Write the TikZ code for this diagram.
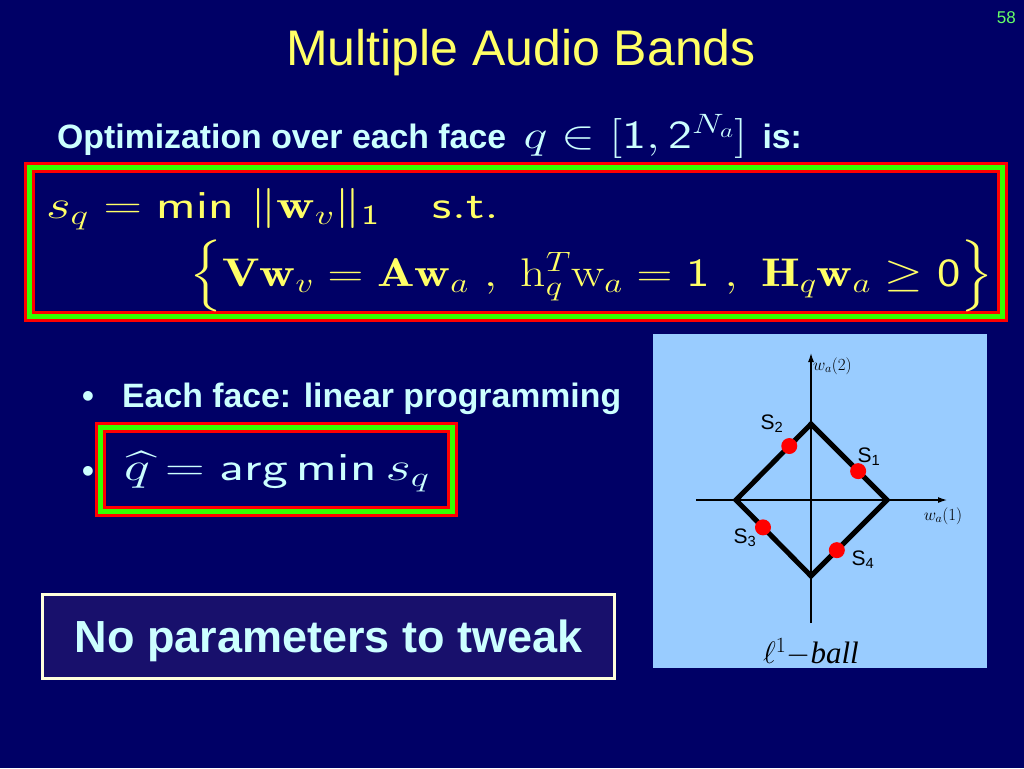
\RequirePackage{fix-cm}
\documentclass[tikz,border=0pt]{standalone}
\usepackage{amsmath,amssymb}
\usepackage{graphicx}
\usepackage{fontspec}
\newfontfamily\arialfont{Liberation Sans}
\newfontfamily\timesfont{Liberation Serif}
\usetikzlibrary{positioning,arrows.meta}

\definecolor{slidebg}{RGB}{0,0,102}
\definecolor{titleyellow}{RGB}{255,255,102}
\definecolor{textcyan}{RGB}{204,255,255}
\definecolor{pagegreen}{RGB}{102,255,102}
\definecolor{boxred}{RGB}{255,0,0}
\definecolor{boxgreen}{RGB}{51,255,0}
\definecolor{notefill}{RGB}{24,16,108}
\definecolor{notedraw}{RGB}{255,255,220}
\definecolor{panelblue}{RGB}{153,204,255}

% the formulas are drawn a little wider than they are tall
\newcommand{\widemath}[2]{\scalebox{#1}[1]{$#2$}}

\begin{document}
\begin{tikzpicture}[x=1pt,y=-1pt,
  titletext/.style={text=titleyellow,font=\arialfont\fontsize{50}{50}\selectfont,inner sep=0pt},
  bodytext/.style={text=textcyan,font=\arialfont\bfseries\fontsize{33.8}{34}\selectfont,inner sep=0pt},
  mathtext/.style={text=titleyellow,font=\fontsize{40}{40}\selectfont,inner sep=0pt},
  framered/.style={draw=boxred,line width=11pt},
  framegreen/.style={draw=boxgreen,line width=4.5pt},
  axis/.style={line width=1.2pt,-{Latex[length=9pt,width=6pt]}},
  ballline/.style={line width=5pt,line join=miter},
  facedot/.style={circle,fill=boxred,minimum size=16pt,inner sep=0pt},
  facelabel/.style={font=\arialfont\fontsize{21}{21}\selectfont,inner sep=0pt},
  axislabel/.style={font=\fontsize{17}{17}\selectfont,inner sep=0pt}]
  % slide background
  \fill[slidebg] (0,0) rectangle (1024,768);
  \useasboundingbox (0,0) rectangle (1024,768);

  % title and page number
  \node[titletext,anchor=base] (title) at (521,66) {Multiple Audio Bands};
  \node[anchor=base east,text=pagegreen,font=\arialfont\fontsize{17}{17}\selectfont,inner sep=0pt] (page) at (1016,24) {58};

  % heading line
  \node[bodytext,anchor=base west] (facehead) at (57,148) {Optimization over each face};
  \node[mathtext,text=textcyan,right=17pt of facehead.base east,anchor=base west] (facerange) {\widemath{1.27}{q \in [\mathsf{1}, \mathsf{2}^{N_a}]}};
  \node[bodytext,right=15pt of facerange.base east,anchor=base west] (facetail) {is:};

  % optimization problem
  \draw[framered] (29.5,167.5) rectangle (1002.5,316.5);
  \draw[framegreen] (29.5,167.5) rectangle (1002.5,316.5);
  \node[mathtext,anchor=base west] (costline) at (46,218) {\widemath{1.33}{s_q = \mathsf{min}\ \|\mathbf{w}_v\|_{\mathsf{1}} \quad \mathsf{s.t.}}};
  \node[mathtext,anchor=base west] (constline) at (189,286) {\widemath{1.24}{\Big\{\mathbf{Vw}_v = \mathbf{Aw}_a\ ,\ \mathrm{h}_q^T\mathrm{w}_a = \mathsf{1}\ ,\ \mathbf{H}_q\mathbf{w}_a \geq \mathsf{0}\Big\}}};

  % bullets
  \node[bodytext,anchor=base] (lpbullet) at (88,407) {\textbullet};
  \node[bodytext,anchor=base west] (lpitem) at (122,407) {Each face: linear programming};
  \node[bodytext,anchor=base] (argbullet) at (88,482) {\textbullet};
  \draw[framered] (100.5,427.5) rectangle (452.5,511.5);
  \draw[framegreen] (100.5,427.5) rectangle (452.5,511.5);
  \node[mathtext,text=textcyan,anchor=base west] (argline) at (124,480) {\widemath{1.37}{\widehat{q} = \mathsf{arg\,min}\, s_q}};

  % note box
  \node[draw=notedraw,fill=notefill,line width=3pt,minimum width=572pt,minimum height=84pt,
        text=textcyan,font=\arialfont\bfseries\fontsize{45}{45}\selectfont,text height=32pt,text depth=0pt] (tweak) at (328.5,636.5) {No parameters to tweak};

  % l1 ball panel
  \fill[panelblue] (653,334) rectangle (987,668);
  \coordinate (xstart) at (696,500);
  \coordinate (xend) at (947,500);
  \coordinate (ystart) at (811,623);
  \coordinate (yend) at (811,353);
  \draw[axis] (xstart) -- (xend);
  \draw[axis] (ystart) -- (yend);
  \coordinate (ballN) at (811,424);
  \coordinate (ballE) at (887,500);
  \coordinate (ballS) at (811,576);
  \coordinate (ballW) at (736,500);
  \draw[ballline] (ballN) -- (ballE) -- (ballS) -- (ballW) -- cycle;
  \path (ballN) -- (ballE) node[facedot,pos=0.62] (s1dot) {};
  \path (ballN) -- (ballW) node[facedot,pos=0.29] (s2dot) {};
  \path (ballW) -- (ballS) node[facedot,pos=0.36] (s3dot) {};
  \path (ballS) -- (ballE) node[facedot,pos=0.34] (s4dot) {};
  \node[facelabel] (s1label) at (869,457) {S\textsubscript{1}};
  \node[facelabel] (s2label) at (772,424) {S\textsubscript{2}};
  \node[facelabel] (s3label) at (745,538) {S\textsubscript{3}};
  \node[facelabel] (s4label) at (863,560) {S\textsubscript{4}};
  \node[axislabel,anchor=west] (ylabel) at (813,366) {$w_a(2)$};
  \node[axislabel] (xlabel) at (943,516) {$w_a(1)$};
  \node[font=\timesfont\itshape\fontsize{31}{31}\selectfont,inner sep=0pt] (balllabel) at (811,652) {$\ell^1-$ball};
\end{tikzpicture}
\end{document}
